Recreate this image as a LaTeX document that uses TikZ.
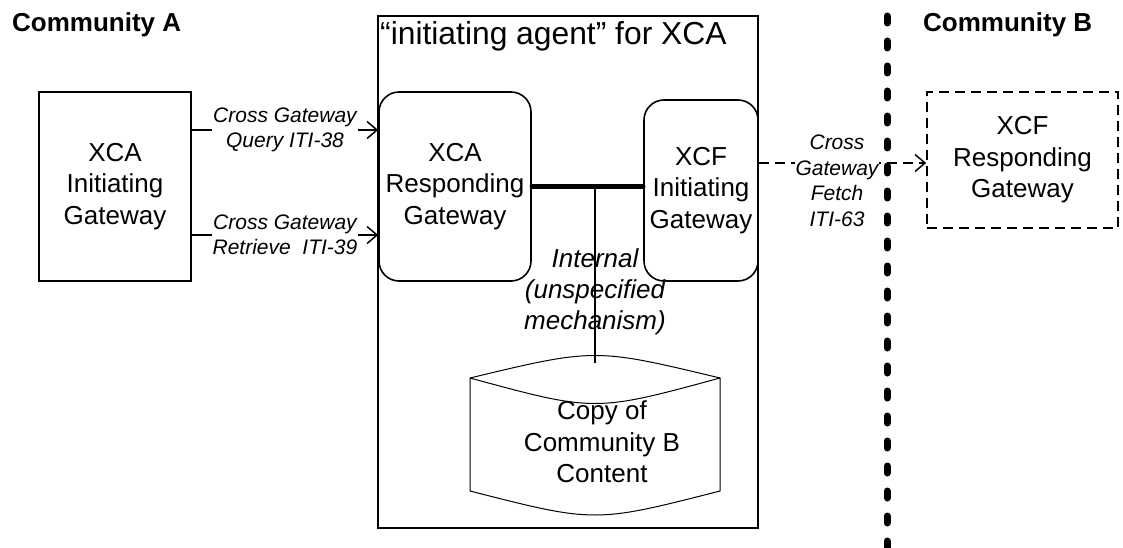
\documentclass[tikz,border=0pt]{standalone}
\usepackage{fontspec}
\setmainfont{Liberation Sans}
\usetikzlibrary{arrows.meta}
\begin{document}
\begin{tikzpicture}[x=1pt,y=-1pt,
  box/.style={draw, line width=1.6pt, align=center, inner sep=0pt,
    font=\fontsize{26}{31.5}\selectfont},
  gw/.style={box, rounded corners=20pt},
  lab/.style={font=\fontsize{21}{25.5}\selectfont\itshape, align=center, fill=white, inner sep=1pt},
  arr/.style={line width=1.5pt, -{Straight Barb[length=10pt,width=17pt]}},
  comm/.style={font=\fontsize{26}{30}\selectfont\bfseries, anchor=base west, inner sep=0pt}
]
\useasboundingbox (0,0) rectangle (1123,548);

% community titles
\node[comm] (ca) at (12,32) {Community A};
\node[comm] (cb) at (923,32) {Community B};

% initiating agent box
\node[draw, line width=1.6pt, minimum width=380pt, minimum height=512pt, inner sep=0pt] (agent) at (568,272) {};
\node[anchor=base west, inner sep=0pt, font=\fontsize{31.8}{36}\selectfont] (title) at (380,45) {“initiating agent” for XCA};

% gateways
\node[box, minimum width=152pt, minimum height=189pt] (xig) at (115,186.5) {XCA\\Initiating\\Gateway};
\node[gw, minimum width=152pt, minimum height=189pt] (xrg) at (455,186.5) {XCA\\Responding\\Gateway};
\node[gw, minimum width=114pt, minimum height=181pt] (xcfi) at (701,190.5) {XCF\\Initiating\\Gateway};
\node[box, dash pattern=on 10pt off 6pt, minimum width=191pt, minimum height=136pt] (xcfr) at (1022.5,160) {XCF\\Responding\\Gateway};

% cylinder
\draw[line width=1pt] (470,378) .. controls (595,348) .. (720,378) -- (720,491)
   .. controls (595,523) .. (470,491) -- cycle;
\draw[line width=1pt] (470,378) .. controls (595,412) .. (720,378);
\coordinate (dbtop) at (595,363);
\node[align=center, inner sep=0pt, font=\fontsize{26}{31.5}\selectfont] (db) at (602,442) {Copy of\\Community B\\Content};

% internal connection
\draw[line width=1.6pt] (dbtop |- xrg.east) -- (dbtop);
\draw[line width=4.5pt, line cap=round] (xrg.east) -- (xcfi.west |- xrg.east);
\node[align=center, inner sep=0pt, font=\fontsize{26}{31}\selectfont\itshape] (intl) at (595,292) {Internal\\(unspecified\\mechanism)};

% arrows from initiating gateway
\coordinate (q1) at (0,130);
\coordinate (q2) at (0,235);
\draw[arr] (xig.east |- q1) -- (xrg.west |- q1) node[midway, lab] (l1) {Cross Gateway\\Query ITI-38};
\draw[arr] (xig.east |- q2) -- (xrg.west |- q2) node[midway, lab] (l2) {Cross Gateway\\Retrieve~~ITI-39};

% fetch arrow
\coordinate (q3) at (0,163);
\draw[arr, dash pattern=on 10pt off 6pt] (xcfi.east |- q3) -- (xcfr.west |- q3);
\node[lab] (l3) at (837,181) {Cross\\Gateway\\Fetch\\ITI-63};

% community border
\coordinate (bt) at (887,16);
\coordinate (bb) at (887,565);
\draw[line width=7pt, line cap=round, dash pattern=on 7pt off 18pt] (bt) -- (bb);
\end{tikzpicture}
\end{document}
